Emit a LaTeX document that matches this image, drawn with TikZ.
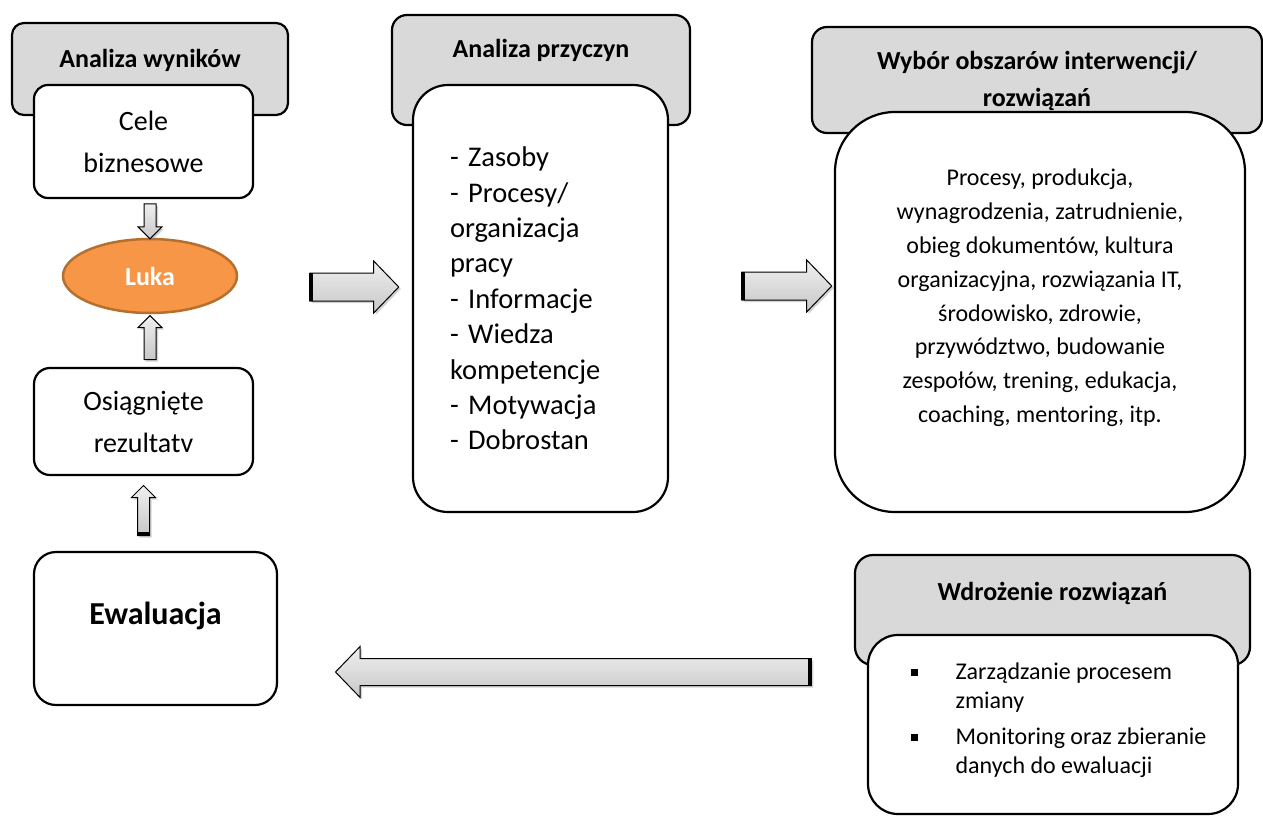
\documentclass[tikz,border=0pt]{standalone}
\usepackage{fontspec}
\setmainfont{Carlito}
\usetikzlibrary{shapes.arrows,shapes.geometric,positioning,calc,shadows}

\definecolor{headgray}{HTML}{D9D9D9}
\definecolor{lukafill}{HTML}{F79646}
\definecolor{lukaline}{HTML}{B5702F}

\newcommand{\sqbullet}{\makebox[45pt][l]{\rule[3pt]{7pt}{7pt}}}

\begin{document}
\begin{tikzpicture}[x=1pt,y=-1pt,
    headbox/.style={draw,line width=2.2pt,fill=headgray,rounded corners=#1,inner sep=0pt},
    whitebox/.style={draw,line width=2.2pt,fill=white,rounded corners=#1,inner sep=0pt,align=center},
    headtext/.style={font=\fontsize{26}{37}\selectfont\bfseries,align=center},
    blockarrow/.style={single arrow,draw,line width=1pt,inner sep=#1,
        single arrow head indent=0pt,
        top color=white!94!black,bottom color=white!78!black,
        drop shadow={opacity=0.35,shadow xshift=2pt,shadow yshift=-2pt}},
    tailbar/.style={line width=3.5pt,line cap=butt}]

    \useasboundingbox (0,0) rectangle (1263,816);

    % Analiza wynikow
    \node[headbox=12, minimum width=276, minimum height=92] (wyn) at (150,69) {};
    \node[headtext] (wynTxt) at (150,60) {Analiza wyników};
    \node[whitebox=14, minimum width=219, minimum height=113,
          font=\fontsize{28}{42}\selectfont] (cele) at (143.5,141.5) {Cele\\biznesowe};
    \node[ellipse, draw=lukaline, line width=2.5pt, fill=lukafill,
          minimum width=174, minimum height=74, text=white,
          font=\fontsize{26}{31}\selectfont\bfseries] (luka) at (150,276) {Luka};
    \node[whitebox=16, minimum width=219, minimum height=107,
          font=\fontsize{28}{42}\selectfont] (osi) at (143.5,421.5) {Osiągnięte\\rezultatv};
    \node[whitebox=22, minimum width=243, minimum height=153] (ewa) at (155.5,628.5) {};
    \node[font=\fontsize{32}{38}\selectfont\bfseries] (ewaTxt) at ([yshift=13pt]ewa.center) {Ewaluacja};

    % male strzalki
    \begin{scope}[single arrow head extend=6pt,single arrow tip angle=90]
        \node[blockarrow=5.5pt, shape border rotate=270, minimum height=35]
            (celeLuka) at ($(cele.south -| luka.north)!.5!(luka.north)$) {};
        \node[blockarrow=5.5pt, shape border rotate=90, minimum height=44]
            (osiLuka) at ($(osi.north -| luka.south)!.5!(luka.south)$) {};
        \node[blockarrow=5.5pt, shape border rotate=90, minimum height=50]
            (ewaOsi) at ($(ewa.north -| osi.south)!.5!(osi.south)$) {};
    \end{scope}
    \draw[tailbar] ($(ewaOsi.before tail)!1.8pt!(ewaOsi.tip)$) -- ($(ewaOsi.after tail)!1.8pt!(ewaOsi.tip)$);

    % Analiza przyczyn
    \node[headbox=15, minimum width=298, minimum height=110] (prz) at (541,70) {};
    \node[headtext] (przTxt) at (541,50) {Analiza przyczyn};
    \node[whitebox=35, minimum width=255, minimum height=427, text width=181,
          inner xsep=37pt, align=left, font=\fontsize{28.5}{35.4}\selectfont]
          (przList) at (540.5,298.5)
          {- Zasoby\\- Procesy/\\organizacja\\pracy\\- Informacje\\- Wiedza\\kompetencje\\- Motywacja\\- Dobrostan};

    % Wybor obszarow
    \node[headbox=15, minimum width=450, minimum height=106] (wyb) at (1037,80) {};
    \node[headtext] (wybTxt) at (1037,81) {Wybór obszarów interwencji/\\rozwiązań};
    \node[whitebox=60, minimum width=410, minimum height=400] (wybBox) at (1040,312) {};
    \node[font=\fontsize{24}{33.8}\selectfont, align=center] (wybList) at (1040,298)
        {Procesy, produkcja,\\wynagrodzenia, zatrudnienie,\\obieg dokumentów, kultura\\
         organizacyjna, rozwiązania IT,\\środowisko, zdrowie,\\przywództwo, budowanie\\
         zespołów, trening, edukacja,\\coaching, mentoring, itp.};

    % Wdrozenie
    \node[headbox=18, minimum width=395, minimum height=110] (wdr) at (1052.5,610) {};
    \node[headtext] (wdrTxt) at (1052.5,593) {Wdrożenie rozwiązań};
    \node[whitebox=30, minimum width=370, minimum height=179] (wdrBox) at (1053,724.5) {};
    \node[font=\fontsize{24}{29}\selectfont, align=left, anchor=west] (wdrList) at (907,720)
        {\sqbullet Zarządzanie procesem\\\hspace*{45pt}zmiany\\[7pt]
         \sqbullet Monitoring oraz zbieranie\\\hspace*{45pt}danych do ewaluacji};

    % duze strzalki
    \begin{scope}[single arrow head extend=12pt,single arrow tip angle=92]
        \node[blockarrow=13.5pt, minimum height=89] (arr1) at (347.5,287) {};
        \node[blockarrow=13.5pt, minimum height=90] (arr2) at (780,286) {};
        \node[blockarrow=13pt, shape border rotate=180, minimum height=476] (arr3) at (580,672) {};
    \end{scope}
    \foreach \a in {arr1,arr2,arr3} {
        \draw[tailbar] ($(\a.before tail)!2pt!(\a.tip)$) -- ($(\a.after tail)!2pt!(\a.tip)$);
    }
\end{tikzpicture}
\end{document}
